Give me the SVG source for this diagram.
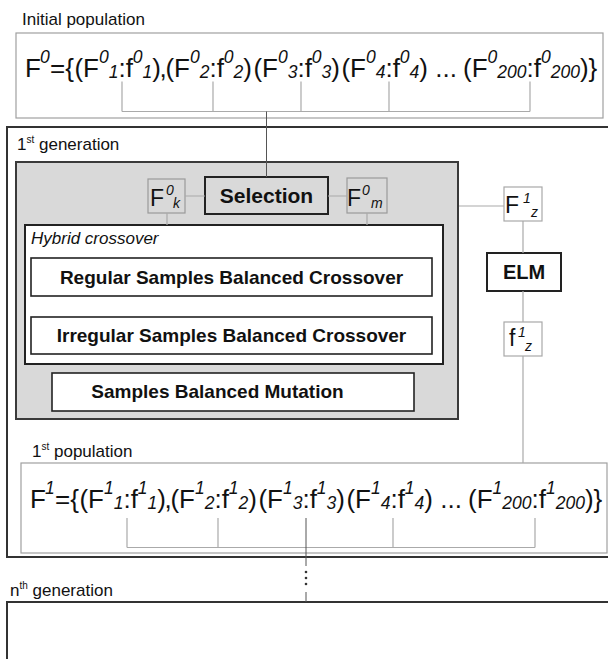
<svg xmlns="http://www.w3.org/2000/svg" width="608" height="659" viewBox="0 0 608 659">
<style>
text{font-family:"Liberation Sans",Arial,sans-serif;fill:#111}
.lbl{font-size:17px}
.sup{font-size:10px}
.fm{font-size:26px}
.s{font-size:17.5px;font-style:italic}
.b{font-weight:bold}
.it{font-style:italic}
.bx{fill:#fff;stroke:#222;stroke-width:1.6}
.bx2{fill:#fff;stroke:#222;stroke-width:2}
.thin{fill:#fff;stroke:#a0a0a0;stroke-width:1.2}
.tg{fill:#d9d9d9;stroke:#9a9a9a;stroke-width:1.2}
.tw{fill:#fff;stroke:#a8a8a8;stroke-width:1.2}
.fb{font-size:23px}
.fs{font-size:14px;font-style:italic}
.conn{stroke:#aaa;stroke-width:1.2;fill:none}
.dk{stroke:#555;stroke-width:1;fill:none}
</style>

<g id="initial-population">
<text class="lbl" x="22" y="25">Initial population</text>
<rect x="16" y="33" width="587" height="85" class="thin"/>
<text class="fm"><tspan x="25" y="77">F</tspan><tspan class="s" x="40" y="63">0</tspan><tspan x="50" y="77">={</tspan><tspan x="74.4" y="77">(F</tspan><tspan class="s" y="63">0</tspan><tspan class="s" y="78">1</tspan><tspan y="77">:f</tspan><tspan class="s" y="63">0</tspan><tspan class="s" y="78">1</tspan><tspan y="77">)</tspan><tspan dx="-1.5" y="77">,</tspan><tspan x="165.4" y="77">(F</tspan><tspan class="s" y="63">0</tspan><tspan class="s" y="78">2</tspan><tspan y="77">:f</tspan><tspan class="s" y="63">0</tspan><tspan class="s" y="78">2</tspan><tspan y="77">)</tspan><tspan x="253.4" y="77">(F</tspan><tspan class="s" y="63">0</tspan><tspan class="s" y="78">3</tspan><tspan y="77">:f</tspan><tspan class="s" y="63">0</tspan><tspan class="s" y="78">3</tspan><tspan y="77">)</tspan><tspan x="341.4" y="77">(F</tspan><tspan class="s" y="63">0</tspan><tspan class="s" y="78">4</tspan><tspan y="77">:f</tspan><tspan class="s" y="63">0</tspan><tspan class="s" y="78">4</tspan><tspan y="77">) ...</tspan><tspan x="463" y="77">(F</tspan><tspan class="s" y="63">0</tspan><tspan class="s" y="78">200</tspan><tspan y="77">:f</tspan><tspan class="s" y="63">0</tspan><tspan class="s" y="78">200</tspan><tspan y="77">)}</tspan></text>
</g>

<g id="generation-1">
<rect x="7" y="127" width="612" height="430" fill="#fff" stroke="#333" stroke-width="2"/>
<text class="lbl" x="17" y="150">1<tspan class="sup" dy="-7">st</tspan><tspan dy="7"> generation</tspan></text>
</g>

<g id="operators">
<rect x="16" y="162" width="442" height="257" fill="#d9d9d9" stroke="#3a3a3a" stroke-width="2"/>
</g>

<g id="F0k">
<rect x="148" y="179" width="37" height="34" class="tg"/>
<text><tspan class="fb" x="150" y="206">F</tspan><tspan class="fs" x="166" y="195">0</tspan><tspan class="fs" x="173" y="208">k</tspan></text>
</g>

<g id="selection">
<rect x="205" y="177" width="123" height="37" fill="#d9d9d9" stroke="#222" stroke-width="2"/>
<text class="b" x="266.5" y="203" font-size="21" text-anchor="middle">Selection</text>
</g>

<g id="F0m">
<rect x="347" y="178" width="40" height="35" class="tg"/>
<text><tspan class="fb" x="347" y="206">F</tspan><tspan class="fs" x="362" y="195">0</tspan><tspan class="fs" x="371" y="208">m</tspan></text>
</g>

<g id="hybrid-crossover">
<rect x="25" y="225" width="418" height="139" class="bx2"/>
<text class="it" x="31" y="244" font-size="17">Hybrid crossover</text>
</g>

<g id="regular-crossover">
<rect x="31" y="258" width="401" height="38" class="bx"/>
<text class="b" x="231.5" y="284" font-size="19" text-anchor="middle">Regular Samples Balanced Crossover</text>
</g>

<g id="irregular-crossover">
<rect x="31" y="317" width="401" height="37" class="bx"/>
<text class="b" x="231.5" y="342" font-size="19" text-anchor="middle">Irregular Samples Balanced Crossover</text>
</g>

<g id="mutation">
<rect x="52" y="373" width="362" height="38" class="bx"/>
<text class="b" x="217.5" y="398" font-size="19" text-anchor="middle">Samples Balanced Mutation</text>
</g>

<g id="F1z">
<rect x="504" y="187" width="38" height="34" class="tw"/>
<text><tspan class="fb" x="505" y="213">F</tspan><tspan class="fs" x="523" y="203">1</tspan><tspan class="fs" x="531" y="217">z</tspan></text>
</g>

<g id="elm">
<rect x="487" y="253" width="74" height="38" class="bx2"/>
<text class="b" x="524" y="279" font-size="20" text-anchor="middle">ELM</text>
</g>

<g id="f1z">
<rect x="504" y="322" width="38" height="34" class="tw"/>
<text><tspan class="fb" x="509" y="346">f</tspan><tspan class="fs" x="518" y="337">1</tspan><tspan class="fs" x="525" y="351">z</tspan></text>
</g>

<g id="population-1">
<text class="lbl" x="32" y="457">1<tspan class="sup" dy="-7">st</tspan><tspan dy="7"> population</tspan></text>
<rect x="21" y="463" width="586" height="90" class="thin"/>
<g transform="translate(5,431)">
<text class="fm"><tspan x="25" y="77">F</tspan><tspan class="s" x="40" y="63">1</tspan><tspan x="50" y="77">={</tspan><tspan x="74.4" y="77">(F</tspan><tspan class="s" y="63">1</tspan><tspan class="s" y="78">1</tspan><tspan y="77">:f</tspan><tspan class="s" y="63">1</tspan><tspan class="s" y="78">1</tspan><tspan y="77">)</tspan><tspan dx="-1.5" y="77">,</tspan><tspan x="165.4" y="77">(F</tspan><tspan class="s" y="63">1</tspan><tspan class="s" y="78">2</tspan><tspan y="77">:f</tspan><tspan class="s" y="63">1</tspan><tspan class="s" y="78">2</tspan><tspan y="77">)</tspan><tspan x="253.4" y="77">(F</tspan><tspan class="s" y="63">1</tspan><tspan class="s" y="78">3</tspan><tspan y="77">:f</tspan><tspan class="s" y="63">1</tspan><tspan class="s" y="78">3</tspan><tspan y="77">)</tspan><tspan x="341.4" y="77">(F</tspan><tspan class="s" y="63">1</tspan><tspan class="s" y="78">4</tspan><tspan y="77">:f</tspan><tspan class="s" y="63">1</tspan><tspan class="s" y="78">4</tspan><tspan y="77">) ...</tspan><tspan x="463" y="77">(F</tspan><tspan class="s" y="63">1</tspan><tspan class="s" y="78">200</tspan><tspan y="77">:f</tspan><tspan class="s" y="63">1</tspan><tspan class="s" y="78">200</tspan><tspan y="77">)}</tspan></text>
</g>
</g>

<g id="generation-n">
<text class="lbl" x="10" y="596">n<tspan class="sup" dy="-7">th</tspan><tspan dy="7"> generation</tspan></text>
<rect x="7" y="602" width="612" height="80" fill="#fff" stroke="#333" stroke-width="2"/>
</g>

<g id="connectors">
<path class="conn" d="M122 81.5V111.5M213 81.5V111.5M301 81.5V111.5M389 81.5V111.5M530 81.5V111.5M122 111.5H530"/>
<path class="dk" d="M266.5 111.5V177"/>
<path class="conn" d="M185 196H205M328 196H347M167 213V225M367 213V225"/>
<path class="conn" d="M459 206H504M523 221V253M523 291V322M523 356V463"/>
<path class="conn" d="M127 518V547.5M218 518V547.5M393 518V547.5M535 518V547.5M127 547.5H535"/>
<path class="dk" d="M306 518V566M306 592V602"/>
<circle cx="306" cy="572" r="1.3" fill="#333"/>
<circle cx="306" cy="578" r="1.3" fill="#333"/>
<circle cx="306" cy="584" r="1.3" fill="#333"/>
</g>
</svg>
